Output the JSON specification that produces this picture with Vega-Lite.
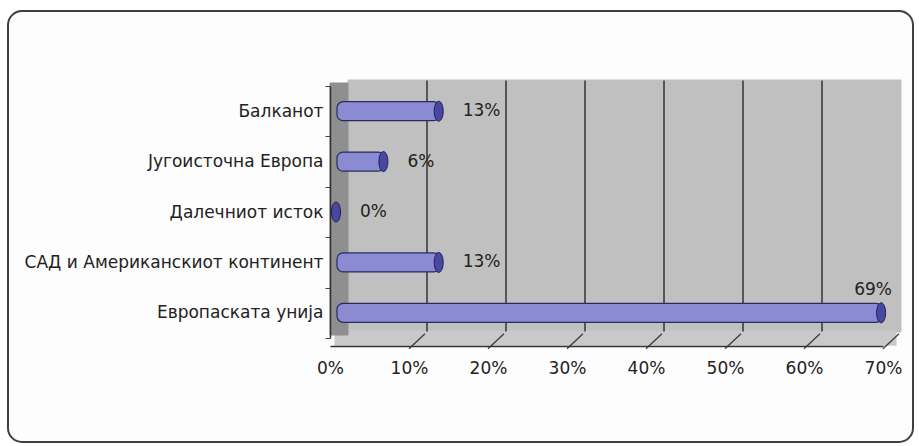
{
  "$schema": "https://vega.github.io/schema/vega-lite/v6.json",
  "width": 905,
  "height": 431,
  "autosize": {"type": "none"},
  "padding": {"left": 8, "top": 11, "right": 6, "bottom": 4},
  "background": "#ffffff",
  "config": {
    "font": "DejaVu Sans",
    "view": {"stroke": "#3f3f3f", "strokeWidth": 2, "cornerRadius": 14, "fill": "#fdfdfd"}
  },
  "datasets": {
    "main": [
      {"region": "Балканот", "v": 0.13},
      {"region": "Југоисточна Европа", "v": 0.06},
      {"region": "Далечниот исток", "v": 0.0},
      {"region": "САД и Американскиот континент", "v": 0.13},
      {"region": "Европаската унија", "v": 0.69}
    ],
    "grid": [{"g": 0.1}, {"g": 0.2}, {"g": 0.3}, {"g": 0.4}, {"g": 0.5}, {"g": 0.6}, {"g": 0.7}]
  },
  "layer": [
    {
      "data": {"name": "main"},
      "mark": {"type": "rect", "fill": "#c0c0c0", "stroke": "#c0c0c0", "strokeWidth": 1, "xOffset": 18, "yOffset": -6},
      "encoding": {
        "x": {"datum": 0, "type": "quantitative", "scale": {"domain": [0, 0.7], "range": [322, 875], "nice": false, "zero": true}},
        "x2": {"datum": 0.7228},
        "y": {"field": "region", "type": "nominal", "sort": null, "scale": {"domain": ["Балканот", "Југоисточна Европа", "Далечниот исток", "САД и Американскиот континент", "Европаската унија"], "range": [75, 327], "paddingInner": 0, "paddingOuter": 0}}
      }
    },
    {
      "data": {"values": [{}]},
      "mark": {"type": "tick", "orient": "horizontal", "size": 562, "thickness": 15, "color": "#c9c9c9", "opacity": 1, "xOffset": 9, "yOffset": 25.5},
      "encoding": {
        "x": {"datum": 0.35, "type": "quantitative"},
        "y": {"datum": "Европаската унија", "type": "nominal"}
      }
    },
    {
      "data": {"name": "grid"},
      "transform": [{"filter": "datum.g < 0.65"}],
      "mark": {"type": "tick", "orient": "vertical", "size": 251, "thickness": 1.6, "color": "#3c3c3c", "opacity": 1, "xOffset": 18, "yOffset": -6},
      "encoding": {
        "x": {"field": "g", "type": "quantitative"},
        "y": {"datum": "Далечниот исток", "type": "nominal"}
      }
    },
    {
      "data": {"name": "grid"},
      "mark": {"type": "rule", "color": "#3c3c3c", "strokeWidth": 1.3, "x2Offset": 16, "yOffset": 36, "y2Offset": 21},
      "encoding": {
        "x": {"field": "g", "type": "quantitative"},
        "x2": {"field": "g"},
        "y": {"datum": "Европаската унија", "type": "nominal"},
        "y2": {"datum": "Европаската унија"}
      }
    },
    {
      "data": {"name": "main"},
      "mark": {"type": "rect", "fill": "#8f8f8f", "stroke": "#8f8f8f", "strokeWidth": 1, "x2Offset": 18, "yOffset": -3},
      "encoding": {
        "x": {"datum": 0, "type": "quantitative"},
        "x2": {"datum": 0},
        "y": {"field": "region", "type": "nominal", "sort": null}
      }
    },
    {
      "data": {"name": "main"},
      "mark": {"type": "rect", "height": 19, "xOffset": 7, "x2Offset": 7, "fill": "#8b8bd3", "stroke": "#2b2b5e", "strokeWidth": 1.2, "cornerRadius": 6},
      "encoding": {
        "x": {"field": "v", "type": "quantitative", "axis": {"values": [0, 0.1, 0.2, 0.3, 0.4, 0.5, 0.6, 0.7], "format": ".0%", "title": null, "offset": -96, "grid": false, "ticks": false, "labelPadding": 14, "labelFontSize": 17, "labelColor": "#222222", "labelFlush": false, "labelOverlap": false, "domainColor": "#333333", "domainWidth": 1.5, "zindex": 1}},
        "x2": {"datum": 0},
        "y": {"field": "region", "type": "nominal", "sort": null, "axis": {"title": null, "offset": -322, "tickBand": "extent", "tickSize": 5, "tickColor": "#444444", "labelPadding": 2, "labelFontSize": 17, "labelColor": "#222222", "labelLimit": 400, "domainColor": "#333333", "domainWidth": 1.5, "zindex": 1}}
      }
    },
    {
      "data": {"name": "main"},
      "mark": {"type": "point", "filled": true, "shape": "M0,-1A0.45,1,0,1,1,0,1A0.45,1,0,1,1,0,-1Z", "size": 400, "xOffset": 6, "fill": "#4848a0", "stroke": "#1f1f55", "strokeWidth": 1, "opacity": 1},
      "encoding": {
        "x": {"field": "v", "type": "quantitative"},
        "y": {"field": "region", "type": "nominal", "sort": null}
      }
    },
    {
      "data": {"name": "main"},
      "transform": [{"filter": "datum.v < 0.5"}],
      "mark": {"type": "text", "align": "left", "baseline": "middle", "dx": 30, "fontSize": 17, "color": "#222222"},
      "encoding": {
        "x": {"field": "v", "type": "quantitative"},
        "y": {"field": "region", "type": "nominal", "sort": null},
        "text": {"field": "v", "type": "quantitative", "format": ".0%"}
      }
    },
    {
      "data": {"name": "main"},
      "transform": [{"filter": "datum.v >= 0.5"}],
      "mark": {"type": "text", "align": "center", "baseline": "middle", "dx": -2, "dy": -23, "fontSize": 17, "color": "#222222"},
      "encoding": {
        "x": {"field": "v", "type": "quantitative"},
        "y": {"field": "region", "type": "nominal", "sort": null},
        "text": {"field": "v", "type": "quantitative", "format": ".0%"}
      }
    }
  ]
}
